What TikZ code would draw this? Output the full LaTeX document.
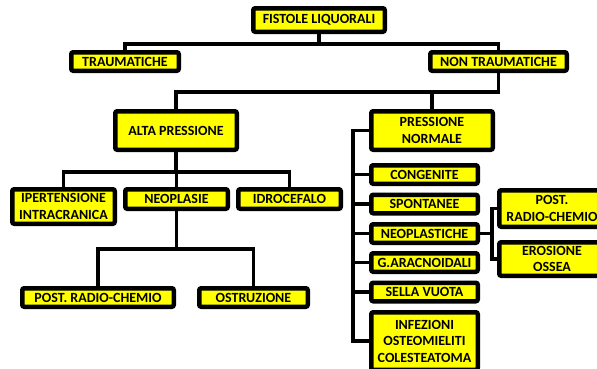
\documentclass[tikz,border=0pt]{standalone}
\usepackage{fontspec}
\setmainfont{Carlito}
\usetikzlibrary{positioning}
\definecolor{fistYellow}{HTML}{FFFF00}

\begin{document}
\begin{tikzpicture}[x=1pt,y=-1pt,
   font=\fontsize{14}{16.5}\selectfont\bfseries,
   cell/.style={draw=black,fill=fistYellow,line width=4.5pt,rounded corners=2pt,
                inner sep=0pt,align=center,minimum width=106.5pt,minimum height=18.5pt},
   link/.style={draw=black,line width=3.2pt}]
  \useasboundingbox (0,0) rectangle (597,368);
  \clip (0,0) rectangle (597,368);
  % radice e primo livello
  \node[cell,minimum width=131.5pt,minimum height=23.5pt] (fistole) at (319,20) {FISTOLE LIQUORALI};
  \node[cell,minimum width=107.5pt] (traum) at (125,61.5) {TRAUMATICHE};
  \node[cell,minimum width=136.5pt] (nontraum) at (498.5,61.5) {NON TRAUMATICHE};
  % pressione
  \node[cell,minimum width=121.5pt,minimum height=38.5pt] (alta) at (176,130.5) {ALTA PRESSIONE};
  \node[cell,minimum width=121.5pt,minimum height=38.5pt] (normale) at (432,130.5) {PRESSIONE\\NORMALE};
  % ramo alta pressione
  \node[cell,minimum width=102.5pt,minimum height=34.5pt] (iper) at (63.5,206.5) {IPERTENSIONE\\INTRACRANICA};
  \node[cell,minimum width=102.5pt,minimum height=19.5pt] (neopl) at (176.5,199) {NEOPLASIE};
  \node[cell,minimum width=102.5pt,minimum height=19.5pt] (idro) at (289.5,199) {IDROCEFALO};
  \node[cell,minimum width=151.5pt] (postA) at (98,297.5) {POST. RADIO-CHEMIO};
  \node[cell,minimum width=108.5pt] (ostr) at (253.5,297.5) {OSTRUZIONE};
  % ramo pressione normale
  \node[cell] (cong) at (424.5,174.5) {CONGENITE};
  \node[cell] (spont) at (424.5,204) {SPONTANEE};
  \node[cell] (neoplast) at (424.5,233.5) {NEOPLASTICHE};
  \node[cell] (garac) at (424.5,262.5) {G.ARACNOIDALI};
  \node[cell] (sella) at (424.5,292) {SELLA VUOTA};
  \node[cell,minimum height=57.5pt] (infez) at (424.5,341) {INFEZIONI\\OSTEOMIELITI\\COLESTEATOMA};
  \node[cell,minimum width=105.5pt,minimum height=36.5pt] (postB) at (552,208.5) {POST.\\RADIO-CHEMIO};
  \node[cell,minimum width=105.5pt,minimum height=33.5pt] (eros) at (552,259) {EROSIONE\\OSSEA};

  % collegamenti
  \draw[link] (fistole.south) -- ++(0,10) -| (traum.north);
  \draw[link] (fistole.south) -- ++(0,10) -| (nontraum.north);
  \draw[link] (nontraum.south) -- ++(0,19) -| (alta.north);
  \draw[link] (nontraum.south) -- ++(0,19) -| (normale.north);
  \foreach \n in {iper,neopl,idro}
    \draw[link] (alta.south) -- ++(0,20) -| (\n.north);
  \foreach \n in {postA,ostr}
    \draw[link] (neopl.south) -- ++(0,38) -| (\n.north);
  \foreach \n in {cong,spont,neoplast,garac,sella,infez}
    \draw[link] (normale.west) -- ++(-16,0) |- (\n.west);
  \foreach \n in {postB,eros}
    \draw[link] (neoplast.east) -- ++(12,0) |- (\n.west);
\end{tikzpicture}
\end{document}
